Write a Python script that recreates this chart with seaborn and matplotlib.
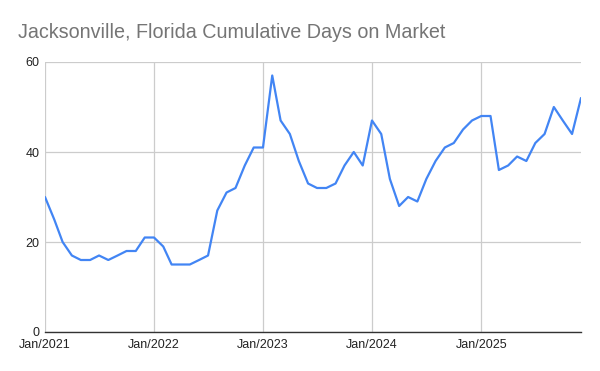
import matplotlib
matplotlib.use("Agg")
import matplotlib.pyplot as plt
import matplotlib.dates as mdates
import seaborn as sns
import pandas as pd

months = pd.date_range("2021-01-01", "2025-12-01", freq="MS")
days_on_market = [
    30, 25, 20, 17, 16, 16, 17, 16, 17, 18, 18, 21,
    21, 19, 15, 15, 15, 16, 17, 27, 31, 32, 37, 41,
    41, 57, 47, 44, 38, 33, 32, 32, 33, 37, 40, 37,
    47, 44, 34, 28, 30, 29, 34, 38, 41, 42, 45, 47,
    48, 48, 36, 37, 39, 38, 42, 44, 50, 47, 44, 52,
]
y_ticks = [0, 20, 40, 60]
x_tick_years = ["2021", "2022", "2023", "2024", "2025"]
title = "Jacksonville, Florida Cumulative Days on Market"

df = pd.DataFrame({"month": months, "days": days_on_market})

sns.set_theme(style="white")
plt.rcParams["font.family"] = ["Liberation Sans", "DejaVu Sans"]

fig = plt.figure(figsize=(6, 3.71), dpi=100)
ax = fig.add_axes([45/600, 1-332/371, (581-45)/600, (332-62)/371])

sns.lineplot(data=df, x="month", y="days", ax=ax, color="#4285F4", linewidth=1.6)

ax.set_xlim(months[0], months[-1])
ax.set_ylim(0, 60)
ax.set_yticks(y_ticks)
ax.set_xticks([pd.Timestamp(f"{y}-01-01") for y in x_tick_years])
ax.xaxis.set_major_formatter(mdates.DateFormatter("%b/%Y"))

ax.grid(True, color="#cccccc", linewidth=0.9)
ax.set_axisbelow(True)
for s in ["left", "right", "top"]:
    ax.spines[s].set_visible(False)
ax.spines["bottom"].set_color("#333333")
ax.spines["bottom"].set_linewidth(1.0)
ax.spines["bottom"].set_zorder(5)

ax.tick_params(axis="both", length=0, labelsize=9, colors="#222222")
ax.tick_params(axis="y", pad=4)
ax.tick_params(axis="x", pad=5)
ax.set_xlabel("")
ax.set_ylabel("")

fig.text(18/600, 1-33/371, title, fontsize=14.2, color="#757575", va="center", ha="left")

fig.savefig("out.png", dpi=100, facecolor="white")
